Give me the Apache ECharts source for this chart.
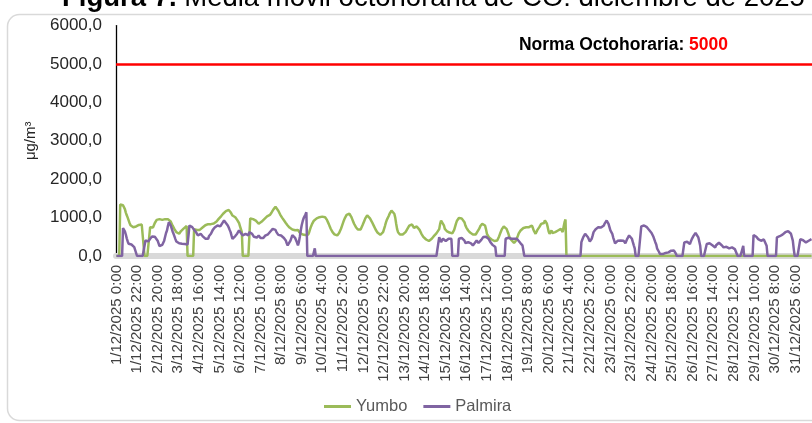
<!DOCTYPE html>
<html><head><meta charset="utf-8">
<script src="https://cdn.jsdelivr.net/npm/echarts@6/dist/echarts.min.js"></script>
<style>html,body{margin:0;padding:0;background:#fff}#c{width:812px;height:423px}</style>
</head><body><div id="c"></div>
<script>
// Hourly 8-hour moving average of CO (µg/m3), December 2025, 24 values per day
const yumbo = [
0,0,0,0,1340,1340,1330,1320,1300,1220,1130,1060,1000,930,860,800,770,760,750,750,760,770,790,800,
810,810,820,820,820,830,0,0,0,0,0,0,750,720,700,740,800,860,900,940,950,950,960,960,
950,940,960,970,960,950,950,960,950,940,900,850,790,740,700,650,620,600,580,580,620,650,660,700,
720,740,760,780,0,0,0,0,0,0,0,700,680,670,680,700,690,680,700,720,740,760,780,800,
810,820,830,840,830,830,835,840,845,860,880,900,930,960,990,1010,1040,1070,1100,1120,1150,1170,1190,1200,
1200,1170,1140,1090,1054,1040,1020,1010,980,940,900,860,780,700,620,0,0,0,0,0,0,0,0,980,
1000,980,960,950,930,920,900,870,840,840,860,890,920,940,960,990,1010,1030,1040,1050,1070,1100,1140,1180,
1220,1260,1280,1260,1230,1180,1130,1080,1040,1000,960,930,900,860,820,795,770,740,710,700,690,670,665,670,
690,700,680,640,600,580,570,560,560,555,545,540,535,560,620,700,770,830,880,920,950,966,980,990,
1000,1010,1015,1020,1025,1030,1030,1010,980,940,890,830,770,710,660,620,590,565,550,540,535,560,600,650,
710,780,850,920,980,1030,1070,1090,1100,1100,1070,1020,960,900,840,790,750,710,690,670,665,690,740,800,
860,920,980,1030,1060,1050,1020,980,940,890,840,790,740,690,650,610,580,560,550,540,560,620,700,780,
870,940,980,1040,1100,1150,1180,1180,1150,1100,1000,840,700,620,580,560,540,535,560,578,600,622,650,707,
750,790,820,837,820,780,730,707,740,770,751,720,680,630,578,540,500,470,448,430,410,395,390,400,
420,448,480,510,535,560,590,610,622,700,837,924,910,880,800,707,680,650,630,622,610,595,578,590,
630,680,707,850,920,960,990,1010,1000,980,960,950,880,795,740,700,665,640,610,590,578,560,545,535,
560,600,640,665,720,780,820,837,820,805,795,700,578,530,490,460,448,430,410,395,390,395,400,406,
450,510,578,640,700,740,770,750,720,707,680,578,500,450,420,406,370,340,360,400,448,520,590,640,
665,690,710,730,740,745,750,740,745,751,751,775,795,740,665,620,578,620,680,730,751,800,837,810,
795,860,924,924,850,751,640,578,620,665,600,578,600,622,640,650,665,640,622,707,660,622,760,880,
950,0,0,0,0,0,0,0,0,0,0,0,0,0,0,0,0,0,0,0,0,0,0,0,
0,0,0,0,0,0,0,0,0,0,0,0,0,0,0,0,0,0,0,0,0,0,0,0,
0,0,0,0,0,0,0,0,0,0,0,0,0,0,0,0,0,0,0,0,0,0,0,0,
0,0,0,0,0,0,0,0,0,0,0,0,0,0,0,0,0,0,0,0,0,0,0,0,
0,0,0,0,0,0,0,0,0,0,0,0,0,0,0,0,0,0,0,0,0,0,0,0,
0,0,0,0,0,0,0,0,0,0,0,0,0,0,0,0,0,0,0,0,0,0,0,0,
0,0,0,0,0,0,0,0,0,0,0,0,0,0,0,0,0,0,0,0,0,0,0,0,
0,0,0,0,0,0,0,0,0,0,0,0,0,0,0,0,0,0,0,0,0,0,0,0,
0,0,0,0,0,0,0,0,0,0,0,0,0,0,0,0,0,0,0,0,0,0,0,0,
0,0,0,0,0,0,0,0,0,0,0,0,0,0,0,0,0,0,0,0,0,0,0,0,
0,0,0,0,0,0,0,0,0,0,0,0,0,0,0,0,0,0,0,0,0,0,0,0
];
const palmira = [
0,0,0,0,0,0,0,725,700,640,560,460,380,320,290,277,300,319,260,233,240,240,0,0,
0,0,0,0,0,0,0,406,390,363,380,410,448,480,510,535,535,500,470,448,400,330,260,233,
260,290,319,400,500,600,665,780,880,840,795,720,640,578,510,440,380,363,340,330,319,319,319,319,
319,310,305,300,300,540,795,780,760,751,720,680,650,622,580,535,550,565,578,550,520,500,480,450,
420,406,450,520,560,578,630,680,707,740,770,790,795,780,775,770,800,850,900,924,900,860,820,795,
740,680,622,530,448,470,500,520,535,580,630,665,640,600,560,535,545,560,575,570,550,540,620,650,
630,578,540,500,470,448,480,510,535,500,470,455,448,470,500,530,540,550,565,578,610,650,690,707,
740,751,680,622,580,550,535,535,535,535,520,470,430,406,330,277,300,319,400,470,540,578,530,470,
448,350,277,363,500,665,800,900,980,1010,1080,1140,0,0,0,0,0,0,0,0,200,0,0,0,
0,0,0,0,0,0,0,0,0,0,0,0,0,0,0,0,0,0,0,0,0,0,0,0,
0,0,0,0,0,0,0,0,0,0,0,0,0,0,0,0,0,0,0,0,0,0,0,0,
0,0,0,0,0,0,0,0,0,0,0,0,0,0,0,0,0,0,0,0,0,0,0,0,
0,0,0,0,0,0,0,0,0,0,0,0,0,0,0,0,0,0,0,0,0,0,0,0,
0,0,0,0,0,0,0,0,0,0,0,0,0,0,0,0,0,0,0,0,0,0,0,0,
0,0,0,0,0,0,0,0,0,492,420,363,400,450,492,440,390,363,400,450,492,470,448,0,
0,0,0,0,0,0,448,448,460,470,475,475,400,340,319,340,360,363,363,330,300,277,300,340,
380,406,370,340,319,360,420,470,492,510,535,500,470,448,440,400,350,319,290,260,240,233,0,0,
0,0,0,0,0,0,0,0,448,460,470,475,460,450,448,448,448,448,448,448,448,420,390,363,
330,300,277,260,0,0,0,0,0,0,0,0,0,0,0,0,0,0,0,0,0,0,0,0,
0,0,0,0,0,0,0,0,0,0,0,0,0,0,0,0,0,0,0,0,0,0,0,0,
0,0,0,0,0,0,0,0,0,0,0,0,0,0,0,0,0,363,430,492,540,578,560,535,
490,448,380,363,448,530,622,660,690,707,720,751,730,707,740,770,790,795,850,900,924,880,837,750,
665,620,578,480,406,330,319,363,400,448,430,406,430,448,400,363,330,319,448,500,535,578,520,448,
360,277,200,0,0,0,0,0,0,770,780,790,795,780,760,751,720,690,665,650,600,578,500,448,
360,300,190,140,104,50,0,30,50,50,60,80,95,100,95,100,120,138,140,138,140,138,60,0,
0,0,0,0,0,0,0,354,360,365,370,360,330,311,380,440,484,530,570,600,613,560,484,380,
267,0,0,0,0,0,0,311,340,354,330,311,311,280,250,230,224,280,311,330,345,354,330,280,
240,224,250,267,240,220,200,200,210,224,224,200,190,181,181,181,0,0,0,0,0,0,267,0,
0,0,0,0,0,0,0,0,0,545,540,527,500,470,440,420,400,397,397,410,430,440,400,267,
0,0,0,0,0,0,0,0,0,0,484,490,500,515,527,540,555,570,600,620,640,656,650,613,
600,580,570,400,181,0,0,0,0,0,0,440,430,420,410,397,370,354,370,390,397,410,420,440
];
const seriesNames = ['Yumbo', 'Palmira'];
const seriesColors = ['#9BBB59', '#8064A2'];
const yTickLabels = ['0,0', '1000,0', '2000,0', '3000,0', '4000,0', '5000,0', '6000,0'];
const normValue = 5000;
const normText = 'Norma Octohoraria: ';
const titleBold = 'Figura 7.';
const titleRest = ' Media móvil octohoraria de CO: diciembre de 2025';
const unitLabel = 'μg/m³';
const days = 31, hoursPerDay = 24;
const categories = [];
for (let d = 1; d <= days; d++) for (let h = 0; h < hoursPerDay; h++) categories.push(d + '/12/2025 ' + h + ':00');

const FONT = 'Liberation Sans, Arial, sans-serif';
const NARROW = 'Liberation Sans Narrow, Arial Narrow, ' + FONT;
const chart = echarts.init(document.getElementById('c'), null, {renderer: 'canvas'});
chart.setOption({
  animation: false,
  backgroundColor: '#fff',
  textStyle: {fontFamily: FONT},
  grid: {left: 116, right: 0, top: 25.6, bottom: 167, containLabel: false},
  legend: {
    data: seriesNames, left: 319, top: 393, icon: 'rect', itemWidth: 27, itemHeight: 3, itemGap: 16,
    textStyle: {fontSize: 16.5, color: '#595959', fontFamily: FONT}
  },
  xAxis: {
    type: 'category', data: categories, boundaryGap: true, offset: 3,
    axisLine: {lineStyle: {color: '#D9D9D9', width: 6}},
    axisTick: {show: false},
    axisLabel: {interval: 21, rotate: 90, fontSize: 15, color: '#404040', margin: 6, fontFamily: FONT}
  },
  yAxis: {
    type: 'value', min: 0, max: 6000, interval: 1000,
    axisLine: {show: true, lineStyle: {color: '#000', width: 1.3}},
    axisTick: {show: false}, splitLine: {show: false},
    axisLabel: {fontSize: 17, color: '#262626', margin: 14, fontFamily: FONT, formatter: v => yTickLabels[Math.round(v / 1000)]},
    name: unitLabel, nameLocation: 'middle', nameGap: 78,
    nameTextStyle: {fontSize: 15, color: '#262626', fontFamily: FONT}
  },
  series: [
    {
      name: seriesNames[0], type: 'line', data: yumbo, showSymbol: false, symbol: 'none',
      lineStyle: {width: 2.5, color: seriesColors[0]}, itemStyle: {color: seriesColors[0]}, z: 2,
      markLine: {silent: true, symbol: 'none', label: {show: false},
        lineStyle: {color: '#FF0000', width: 2.5, type: 'solid'}, data: [{yAxis: normValue}]}
    },
    {
      name: seriesNames[1], type: 'line', data: palmira, showSymbol: false, symbol: 'none',
      lineStyle: {width: 2.5, color: seriesColors[1]}, itemStyle: {color: seriesColors[1]}, z: 3
    }
  ],
  graphic: [
    {type: 'rect', z: -10, silent: true, shape: {x: 7.5, y: 14.5, width: 840, height: 406, r: 12},
      style: {fill: '#fff', stroke: '#D9D9D9', lineWidth: 1.5}},
    {type: 'text', x: 62, y: -2, silent: true,
      style: {text: '{b|' + titleBold + '}' + titleRest, fontSize: 27.5, fontFamily: FONT, fill: '#000',
        verticalAlign: 'middle', rich: {b: {fontWeight: 'bold', fontSize: 27.5, fontFamily: FONT}}}},
    {type: 'text', x: 728, y: 45, silent: true,
      style: {text: '{k|' + normText + '}{r|' + normValue + '}', align: 'right', verticalAlign: 'middle',
        rich: {
          k: {fontSize: 17.5, fontWeight: 'bold', fontFamily: NARROW, fill: '#000'},
          r: {fontSize: 17.5, fontWeight: 'bold', fontFamily: NARROW, fill: '#FF0000'}
        }}}
  ]
});
</script>
</body></html>
